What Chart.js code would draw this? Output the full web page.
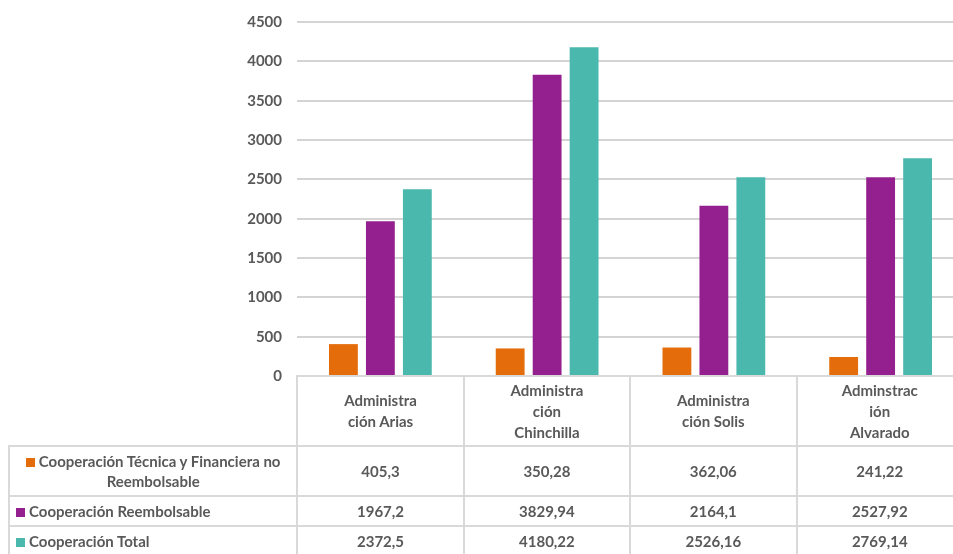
<!DOCTYPE html>
<html><head><meta charset="utf-8">
<script src="https://cdn.jsdelivr.net/npm/chart.js@4.4.1/dist/chart.umd.min.js"></script>
<style>
html,body{margin:0;padding:0;overflow:hidden;background:#fff;width:953px;height:554px}
#wrap{position:relative;width:964px;height:554px;overflow:hidden}
#c{position:absolute;left:0;top:0}
#tbl{position:absolute;border-collapse:collapse;table-layout:fixed;font-family:Lato,"Open Sans",sans-serif;font-weight:700;font-size:15px;color:#595959}
#tbl td,#tbl th{border:2px solid #d9d9d9;text-align:center;padding:0;font-weight:700;overflow:hidden}
#tbl th{line-height:21px}
#tbl td.corner{border:none}
#tbl td.lab{text-align:left;padding-left:6px;line-height:20px}
#tbl tr.r0 td.lab{text-align:center;padding-left:0}
.sw{display:inline-block;width:9px;height:9px;margin-right:4px;vertical-align:0px}
</style></head>
<body>
<div id="wrap"><canvas id="c" width="964" height="554"></canvas><table id="tbl"></table></div>
<script>
// ---- data ----
const categories = [
  ["Administra", "ción Arias"],
  ["Administra", "ción", "Chinchilla"],
  ["Administra", "ción Solis"],
  ["Adminstrac", "ión", "Alvarado"]
];
const seriesNames = [
  "Cooperación Técnica y Financiera no Reembolsable",
  "Cooperación Reembolsable",
  "Cooperación Total"
];
const noReembolsable = [405.3, 350.28, 362.06, 241.22];
const reembolsable = [1967.2, 3829.94, 2164.1, 2527.92];
const total = [2372.5, 4180.22, 2526.16, 2769.14];
const seriesColors = ["#E46C0A", "#941F8E", "#4BB8AD"];
const yTicks = [0, 500, 1000, 1500, 2000, 2500, 3000, 3500, 4000, 4500];

const seriesValues = [noReembolsable, reembolsable, total];

const chart = new Chart(document.getElementById('c'), {
  type: 'bar',
  data: {
    labels: categories.map(c => c.join(' ')),
    datasets: seriesNames.map((n, i) => ({
      label: n,
      data: seriesValues[i],
      backgroundColor: seriesColors[i],
      borderWidth: 0,
      barPercentage: 0.78,
      categoryPercentage: 0.665
    }))
  },
  options: {
    responsive: false,
    animation: false,
    devicePixelRatio: 1,
    layout: { padding: { top: 22, bottom: 178, left: 0, right: 0 } },
    plugins: { legend: { display: false }, tooltip: { enabled: false } },
    scales: {
      x: { display: false },
      y: {
        min: yTicks[0],
        max: yTicks[yTicks.length - 1],
        afterBuildTicks: s => { s.ticks = yTicks.map(v => ({ value: v })); },
        afterFit: s => { s.width = 297; s.paddingTop = 0; s.paddingBottom = 0; },
        border: { display: false },
        grid: { color: '#d4d4d4', lineWidth: 2, drawTicks: false },
        ticks: {
          padding: 15, color: '#595959',
          font: { family: 'Lato', weight: 'bold', size: 15 },
          callback: v => String(v)
        }
      }
    }
  }
});

// ---- data table under the plot, aligned with the x scale ----
const ca = chart.chartArea;
const catW = (ca.right - ca.left) / categories.length;
const fmt = v => String(v).replace('.', ',');
const tbl = document.getElementById('tbl');
tbl.style.left = '8px';
tbl.style.top = (ca.bottom - 1) + 'px';
let html = '<colgroup><col style="width:' + (ca.left - 8) + 'px">' +
  categories.map(() => '<col style="width:' + catW + 'px">').join('') + '</colgroup>';
html += '<tr style="height:70px"><td class="corner"></td>' +
  categories.map(c => '<th>' + c.join('<br>') + '</th>').join('') + '</tr>';
const rowH = [50, 30, 30];
seriesNames.forEach((n, i) => {
  html += '<tr class="r' + i + '" style="height:' + rowH[i] + 'px"><td class="lab"><span class="sw" style="background:' +
    seriesColors[i] + '"></span>' + n + '</td>' +
    seriesValues[i].map(v => '<td>' + fmt(v) + '</td>').join('') + '</tr>';
});
tbl.innerHTML = html;
</script>
</body></html>
